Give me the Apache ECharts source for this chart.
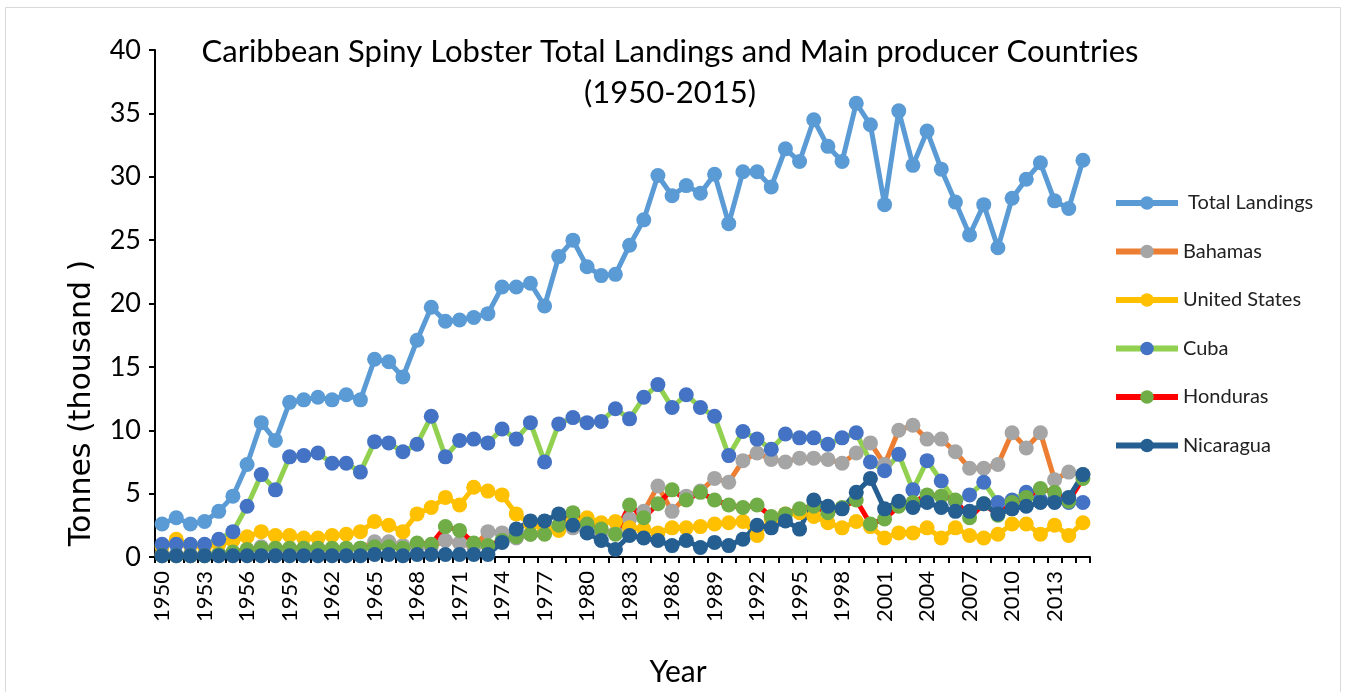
<!DOCTYPE html>
<html>
<head>
<meta charset="utf-8">
<script src="https://cdn.jsdelivr.net/npm/echarts@6/dist/echarts.min.js"></script>
<style>
html,body{margin:0;padding:0;background:#fff;}
#chart{width:1345px;height:692px;}
</style>
</head>
<body>
<div id="chart"></div>
<script>
var years = [];
for (var y = 1950; y <= 2015; y++) { years.push(String(y)); }

var totalLandings = [2.6,3.1,2.6,2.8,3.6,4.8,7.3,10.6,9.2,12.2, 12.4,12.6,12.4,12.8,12.4,15.6,15.4,14.2,17.1,19.7, 18.6,18.7,18.9,19.2,21.3,21.3,21.6,19.8,23.7,25.0, 22.9,22.2,22.3,24.6,26.6,30.1,28.5,29.3,28.7,30.2, 26.3,30.4,30.4,29.2,32.2,31.2,34.5,32.4,31.2,35.8, 34.1,27.8,35.2,30.9,33.6,30.6,28.0,25.4,27.8,24.4, 28.3,29.8,31.1,28.1,27.5,31.3];
var bahamas = [0.2,0.2,0.2,0.2,0.3,0.3,0.4,0.8,0.6,0.5, 0.5,0.5,0.6,0.6,0.7,1.2,1.2,0.9,0.8,0.8, 1.3,1.1,0.8,2.0,1.9,1.5,1.8,2.0,2.2,2.3, 2.2,2.0,1.9,3.0,3.6,5.6,3.6,4.8,5.2,6.2, 5.9,7.6,8.2,7.7,7.5,7.8,7.8,7.7,7.4,8.2, 9.0,7.3,10.0,10.4,9.3,9.3,8.3,7.0,7.0,7.3, 9.8,8.6,9.8,6.1,6.7,6.5];
var unitedStates = [0.8,1.4,0.9,0.8,1.0,1.3,1.6,2.0,1.7,1.7, 1.5,1.5,1.7,1.8,2.0,2.8,2.5,2.0,3.4,3.9, 4.7,4.1,5.5,5.2,4.9,3.4,2.6,2.2,2.1,2.8, 3.1,2.7,2.8,2.3,2.2,1.9,2.3,2.3,2.4,2.6, 2.7,2.8,1.7,3.0,3.4,3.5,3.2,2.7,2.3,2.8, 2.4,1.5,1.9,1.9,2.3,1.5,2.3,1.7,1.5,1.8, 2.6,2.6,1.8,2.5,1.7,2.7];
var cuba = [1.0,1.0,1.0,1.0,1.4,2.0,4.0,6.5,5.3,7.9, 8.0,8.2,7.4,7.4,6.7,9.1,9.0,8.3,8.9,11.1, 7.9,9.2,9.3,9.0,10.1,9.3,10.6,7.5,10.5,11.0, 10.6,10.7,11.7,10.9,12.6,13.6,11.8,12.8,11.8,11.1, 8.0,9.9,9.3,8.5,9.7,9.4,9.4,8.9,9.4,9.8, 7.5,6.8,8.1,5.3,7.6,6.0,4.4,4.9,5.9,4.3, 4.5,5.1,4.5,4.5,4.3,4.3];
var honduras = [0.1,0.1,0.1,0.1,0.2,0.4,0.6,0.7,0.7,0.7, 0.7,0.7,0.7,0.7,0.7,0.8,0.8,0.7,1.1,1.0, 2.4,2.1,1.1,0.9,1.3,1.6,1.8,1.8,2.5,3.5, 2.6,2.2,1.8,4.1,3.1,4.2,5.3,4.5,5.1,4.5, 4.1,3.9,4.1,3.2,3.4,3.8,4.0,3.5,3.9,4.5, 2.6,3.0,4.0,4.3,4.9,4.8,4.5,3.1,4.2,3.3, 4.3,4.7,5.4,5.1,4.4,6.2];
var nicaragua = [0.1,0.1,0.1,0.1,0.1,0.1,0.1,0.1,0.1,0.1, 0.1,0.1,0.1,0.1,0.1,0.2,0.2,0.1,0.2,0.2, 0.2,0.2,0.2,0.2,1.15,2.2,2.85,2.85,3.4,2.5, 1.9,1.3,0.6,1.7,1.5,1.3,0.9,1.3,0.75,1.15, 0.9,1.4,2.5,2.3,2.85,2.2,4.5,4.0,3.8,5.1, 6.2,3.8,4.4,3.9,4.3,3.9,3.6,3.6,4.2,3.4, 3.8,4.0,4.3,4.3,4.7,6.5];

var seriesNames = [' Total Landings','Bahamas','United States','Cuba','Honduras','Nicaragua'];
var lineColors = ['#5B9BD5','#ED7D31','#FFC000','#92D050','#FF0000','#255E91'];
var markerColors = ['#5B9BD5','#A5A5A5','#FFC000','#4472C4','#70AD47','#255E91'];
var seriesData = [totalLandings,bahamas,unitedStates,cuba,honduras,nicaragua];

var FONT = 'Lato';
var chart = echarts.init(document.getElementById('chart'), null, {renderer:'canvas'});

var series = seriesNames.map(function(n,i){
  return {
    name: n,
    type: 'line',
    data: seriesData[i],
    symbol: 'circle',
    symbolSize: 15,
    showSymbol: true,
    showAllSymbol: true,
    lineStyle: {color: lineColors[i], width: 5},
    itemStyle: {color: markerColors[i]},
    emphasis: {disabled: true},
    animation: false
  };
});

chart.setOption({
  animation: false,
  backgroundColor: '#fff',
  title: {
    text: 'Caribbean Spiny Lobster Total Landings and Main producer Countries\n(1950-2015)',
    left: 665, top: 26, textAlign: 'center',
    textStyle: {fontFamily: FONT, fontSize: 31, fontWeight: 'normal', color: '#000', lineHeight: 41}
  },
  legend: {
    orient: 'vertical', left: 1108, top: 188,
    itemWidth: 62, itemHeight: 17, itemGap: 28.5,
    lineStyle: {width: 6},
    textStyle: {fontFamily: FONT, fontSize: 20, color: '#222'},
    data: seriesNames
  },
  grid: {left: 155, right: 255, top: 50, bottom: 135, containLabel: false},
  xAxis: {
    type: 'category', data: years, boundaryGap: true,
    axisLine: {lineStyle: {color: '#000', width: 2}},
    axisTick: {show: true, interval: 0, length: 6, lineStyle: {color: '#000', width: 2}},
    axisLabel: {interval: 2, rotate: 90, margin: 14, fontFamily: FONT, fontSize: 22, color: '#000'},
    splitLine: {show: false}
  },
  yAxis: {
    type: 'value', min: 0, max: 40, interval: 5,
    axisLine: {show: true, lineStyle: {color: '#000', width: 2}},
    axisTick: {show: true, length: 6, lineStyle: {color: '#000', width: 2}},
    axisLabel: {margin: 14, fontFamily: FONT, fontSize: 27, color: '#000'},
    splitLine: {show: false}
  },
  graphic: [
    {type: 'rect', left: 3, top: 5, shape: {width: 1335, height: 690}, style: {fill: 'none', stroke: '#d9d9d9', lineWidth: 1}, silent: true},
    {type: 'text', x: 82, y: 403, rotation: Math.PI/2, style: {text: 'Tonnes (thousand )', fontFamily: 'DejaVu Sans', fontSize: 30, fill: '#000', align: 'center', verticalAlign: 'middle'}},
    {type: 'text', x: 678, y: 672, style: {text: 'Year', fontFamily: FONT, fontSize: 30, fill: '#000', align: 'center', verticalAlign: 'middle'}}
  ],
  series: series
});
</script>
</body>
</html>
